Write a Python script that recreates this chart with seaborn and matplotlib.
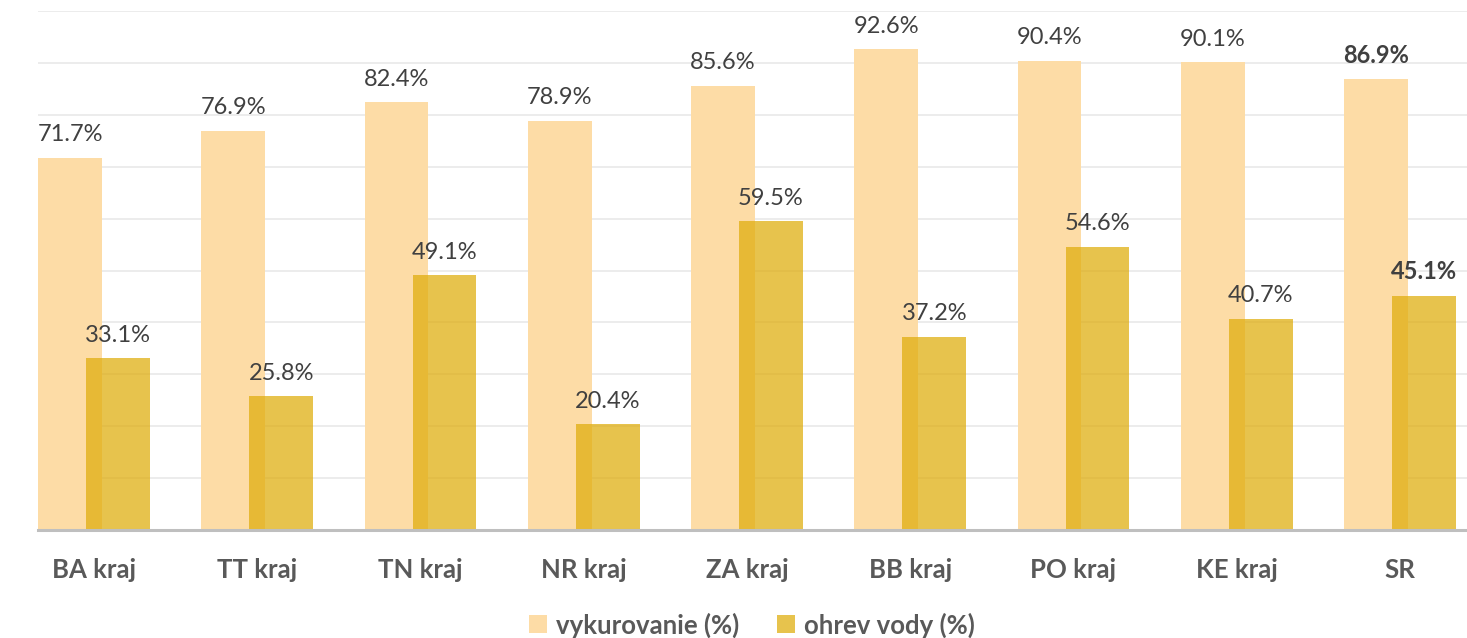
import numpy as np
import pandas as pd
import matplotlib as mpl
import matplotlib.pyplot as plt
import seaborn as sns

regions = ['BA kraj', 'TT kraj', 'TN kraj', 'NR kraj', 'ZA kraj', 'BB kraj', 'PO kraj', 'KE kraj', 'SR']
vykurovanie = [71.7, 76.9, 82.4, 78.9, 85.6, 92.6, 90.4, 90.1, 86.9]
ohrev_vody = [33.1, 25.8, 49.1, 20.4, 59.5, 37.2, 54.6, 40.7, 45.1]

sns.set_style('white')
plt.rcParams['font.family'] = ['Lato', 'DejaVu Sans']

light = '#FDDCA6'
dark = '#DFAC09'
offset = 0.147
bw = 0.392

pos = np.arange(len(regions))
df = pd.DataFrame({'region': regions, 'pos': pos, 'vyk': vykurovanie, 'ohr': ohrev_vody})

fig = plt.figure(figsize=(14.67, 6.38), dpi=100)
ax = fig.add_axes([38/1467, 108/638, 1 - 38/1467, 519/638])

sns.barplot(x=df.pos - offset, y=df.vyk, native_scale=True, width=bw, color=light,
            saturation=1, linewidth=0, ax=ax, label='vykurovanie (%)')
sns.barplot(x=df.pos + offset, y=df.ohr, native_scale=True, width=bw, color=dark,
            saturation=1, alpha=0.72, linewidth=0, ax=ax, label='ohrev vody (%)')

ax.set_xlim((38 - 94) / 163.25, (1467 - 94) / 163.25)
ax.set_ylim(0, 100)
ax.set_yticks(np.arange(0, 101, 10))
ax.yaxis.grid(True, color='#EBEBEB', linewidth=1.3)
ax.set_axisbelow(True)
ax.set_yticklabels([])
ax.tick_params(axis='y', length=0)
ax.set_xticks(pos)
ax.set_xticklabels(regions, fontsize=18.5, fontweight='bold', color='#595959')
ax.tick_params(axis='x', length=0, pad=20)
ax.set_xlabel('')
ax.set_ylabel('')
sns.despine(ax=ax, left=True, right=True, top=True)
ax.spines['bottom'].set_color('#BFBFBF')
ax.spines['bottom'].set_linewidth(2.2)

for i in range(len(regions)):
    w = 'bold' if regions[i] == 'SR' else 'normal'
    ax.text(pos[i] - offset, vykurovanie[i] + 2.4, f'{vykurovanie[i]:.1f}%', ha='center', va='bottom',
            fontsize=17, color='#404040', fontweight=w, clip_on=False)
    ax.text(pos[i] + offset, ohrev_vody[i] + 2.4, f'{ohrev_vody[i]:.1f}%', ha='center', va='bottom',
            fontsize=17, color='#404040', fontweight=w, clip_on=False)

leg = ax.legend(loc='center', bbox_to_anchor=(752/1467, 13/638), bbox_transform=fig.transFigure,
                ncol=2, frameon=False, handlelength=0.7, handleheight=0.7, handletextpad=0.35,
                columnspacing=1.5, prop={'size': 18.5, 'weight': 'bold'})
for t in leg.get_texts():
    t.set_color('#595959')

fig.savefig('out.png', dpi=100)
